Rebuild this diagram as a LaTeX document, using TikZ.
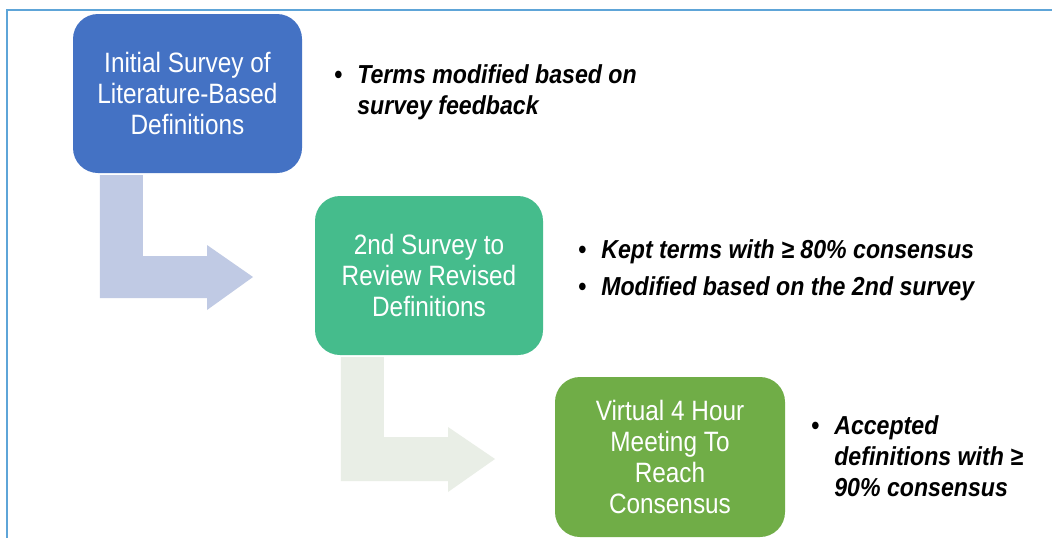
\documentclass[tikz,border=0pt]{standalone}
\usepackage{fontspec}
\newfontfamily\boxfont[FakeStretch=0.87]{Liberation Sans}
\newfontfamily\notefont[FakeStretch=0.89,UprightFont=* Bold Italic]{Liberation Sans}
\usetikzlibrary{calc}
\definecolor{framec}{HTML}{5EA5D8}
\definecolor{bluebox}{HTML}{4472C4}
\definecolor{tealbox}{HTML}{45BC8C}
\definecolor{greenbox}{HTML}{70AD47}
\definecolor{arrowone}{HTML}{C0CAE4}
\definecolor{arrowtwo}{HTML}{E9EEE6}
\tikzset{
  stagebox/.style={rounded corners=25pt, inner sep=0pt, text=white, align=center,
    font=\boxfont\fontsize{28}{31}\selectfont},
  notes/.style={anchor=base west, inner sep=0pt, font=\notefont\fontsize{26}{31}\selectfont},
  bentarrow/.style={draw=none}
}
\begin{document}
\begin{tikzpicture}[x=1pt,y=-1pt]
\useasboundingbox (0,0) rectangle (1052,538);
\fill[white] (0,0) rectangle (1052,538);
\draw[framec, line width=2pt] (1052,10) -- (7,10) -- (7,538);

\node[stagebox, fill=bluebox, minimum width=229pt, minimum height=159pt] (b1) at (187.5,93.5)
  {Initial Survey of\\Literature-Based\\Definitions};
\node[stagebox, fill=tealbox, minimum width=228pt, minimum height=159pt] (b2) at (429,275.5)
  {2nd Survey to\\Review Revised\\Definitions};
\node[stagebox, fill=greenbox, minimum width=230pt, minimum height=160pt] (b3) at (670,457)
  {Virtual 4 Hour\\Meeting To\\Reach\\Consensus};

% bent arrows
\fill[arrowone] ($(b1.south west)+(27,2)$) coordinate (a1s) -- ++(43,0) |- (207,256) -- (207,245)
  -- (253,277) coordinate (a1t) -- (207,310) -- (207,298) -| (a1s) -- cycle;
\fill[arrowtwo] ($(b2.south west)+(26,2)$) coordinate (a2s) -- ++(43,0) |- (448,437) -- (448,427)
  -- (495,459) coordinate (a2t) -- (448,492) -- (448,481) -| (a2s) -- cycle;

\node[notes] (n1) at (334,83) {\begin{tabular}[t]{@{}l@{\hspace{15pt}}l@{}}
  \textbullet & Terms modified based on\\
  & survey feedback
\end{tabular}};
\node[notes] (n2) at (578,258) {\begin{tabular}[t]{@{}l@{\hspace{15pt}}l@{}}
  \textbullet & Kept terms with ≥ 80\% consensus\\[6pt]
  \textbullet & Modified based on the 2nd survey
\end{tabular}};
\node[notes] (n3) at (811,434) {\begin{tabular}[t]{@{}l@{\hspace{15pt}}l@{}}
  \textbullet & Accepted\\
  & definitions with ≥\\
  & 90\% consensus
\end{tabular}};
\end{tikzpicture}
\end{document}
